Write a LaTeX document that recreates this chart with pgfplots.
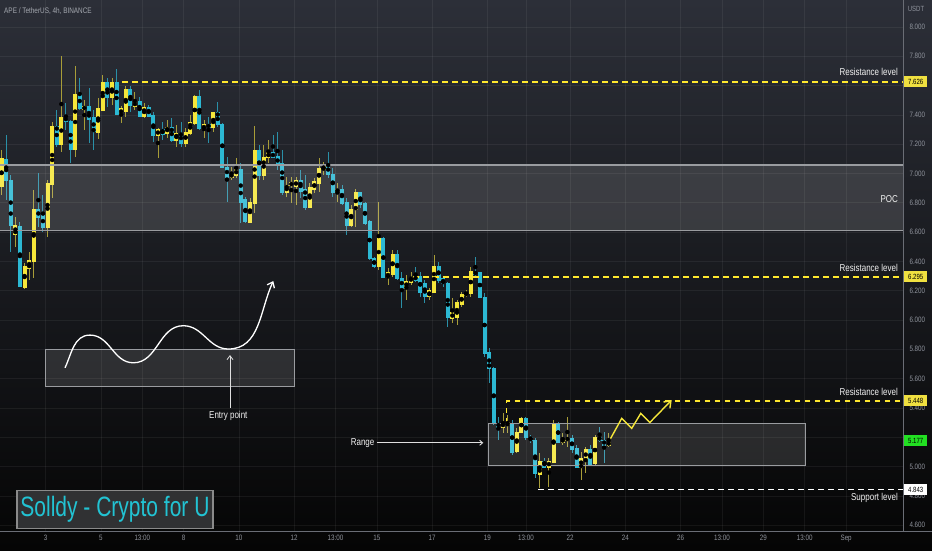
\documentclass[border=0pt]{standalone}
\usepackage{pgfplots}
\pgfplotsset{compat=1.18}
\usepackage{pgfplotstable}
\usetikzlibrary{arrows.meta}
\usepackage{fontspec}
\setmainfont{Liberation Sans}[FakeStretch=0.8]
\newfontfamily\wmfont{Liberation Sans}[FakeStretch=0.75]

\definecolor{upbody}{HTML}{F5E63A}
\definecolor{upwick}{HTML}{A89D38}
\definecolor{dnbody}{HTML}{2CB8D3}
\definecolor{dnwick}{HTML}{2A90A8}
\definecolor{bgtop}{HTML}{2C2F38}
\definecolor{bgmid}{HTML}{17181D}
\definecolor{bgbot}{HTML}{050505}
\definecolor{tickgray}{HTML}{8F939C}
\definecolor{axisgray}{HTML}{6A6D75}
\definecolor{lvlyellow}{HTML}{FFE82E}
\definecolor{tagyellow}{HTML}{F0E040}
\definecolor{taggreen}{HTML}{22E022}
\definecolor{boxline}{HTML}{9A9CA0}
\definecolor{wmcyan}{HTML}{22C3D3}
\definecolor{wmfill}{HTML}{303133}
\definecolor{wmborder}{HTML}{8A8A8A}

% APE/USDT 4h candles: bar index, open, high, low, close
\pgfplotstableread{
i o h l c
0 6.908 7.160 6.853 7.099
3 6.587 6.703 6.498 6.648
5 6.225 6.389 6.211 6.362
6 6.355 6.464 6.273 6.409
7 6.402 6.887 6.286 6.751
10 6.634 6.955 6.566 6.935
11 6.928 7.351 6.833 7.324
13 7.201 7.802 7.146 7.385
16 7.167 7.733 7.112 7.536
18 7.440 7.501 7.297 7.454
21 7.283 7.515 7.235 7.440
22 7.433 7.672 7.426 7.624
24 7.522 7.652 7.467 7.624
26 7.406 7.460 7.344 7.440
27 7.426 7.597 7.385 7.576
29 7.460 7.556 7.433 7.488
31 7.392 7.481 7.379 7.447
34 7.262 7.310 7.106 7.297
36 7.276 7.365 7.242 7.317
38 7.222 7.331 7.181 7.276
40 7.208 7.310 7.181 7.283
41 7.276 7.399 7.262 7.351
42 7.344 7.536 7.331 7.522
44 7.303 7.365 7.242 7.331
46 7.317 7.420 7.283 7.413
50 6.976 7.044 6.955 6.996
51 6.989 7.106 6.969 7.030
54 6.669 6.833 6.662 6.805
55 6.798 7.324 6.730 7.160
57 6.983 7.194 6.955 7.112
58 7.112 7.228 7.071 7.140
62 6.867 6.976 6.839 6.921
63 6.921 6.976 6.798 6.935
64 6.914 6.976 6.785 6.949
67 6.771 6.935 6.764 6.901
68 6.894 6.969 6.867 6.942
69 6.935 7.106 6.873 7.037
70 7.030 7.078 6.989 7.051
73 6.873 6.935 6.805 6.894
76 6.648 6.785 6.634 6.757
77 6.757 6.894 6.634 6.867
82 6.368 6.805 6.341 6.559
84 6.293 6.355 6.239 6.321
85 6.314 6.478 6.293 6.450
88 6.218 6.307 6.136 6.266
89 6.259 6.327 6.239 6.293
93 6.164 6.218 6.136 6.198
94 6.191 6.443 6.184 6.368
98 6.013 6.150 5.979 6.048
99 6.020 6.136 5.966 6.116
100 6.109 6.191 6.089 6.177
101 6.170 6.205 6.157 6.184
102 6.184 6.362 6.157 6.334
109 5.269 5.365 5.228 5.297
110 5.290 5.351 5.228 5.303
112 5.106 5.263 5.092 5.235
113 5.235 5.338 5.228 5.331
117 4.949 5.092 4.853 5.037
119 4.996 5.058 4.860 5.037
120 5.030 5.317 5.024 5.297
122 5.167 5.228 5.147 5.187
123 5.181 5.338 5.133 5.194
126 4.996 5.099 4.908 5.058
127 5.044 5.133 4.955 5.119
129 5.024 5.215 5.010 5.201
132 5.147 5.228 5.133 5.167
}\upbars

\pgfplotstableread{
i o h l c
1 7.092 7.262 6.819 6.955
2 6.955 6.989 6.464 6.648
4 6.641 6.669 6.225 6.232
8 6.751 7.003 6.634 6.703
9 6.716 6.853 6.600 6.634
12 7.324 7.433 7.181 7.201
14 7.385 7.481 7.297 7.358
15 7.358 7.365 7.071 7.167
17 7.542 7.652 7.433 7.447
19 7.454 7.583 7.208 7.372
20 7.379 7.433 7.160 7.290
23 7.624 7.652 7.454 7.522
25 7.624 7.713 7.399 7.406
28 7.576 7.597 7.420 7.467
30 7.488 7.522 7.385 7.392
32 7.447 7.467 7.385 7.392
33 7.399 7.420 7.215 7.256
35 7.297 7.351 7.228 7.269
37 7.317 7.379 7.215 7.222
39 7.276 7.351 7.181 7.208
43 7.522 7.570 7.297 7.310
45 7.331 7.385 7.208 7.317
47 7.413 7.488 7.317 7.331
48 7.331 7.344 7.037 7.044
49 7.044 7.112 6.805 6.976
52 7.030 7.071 6.662 6.805
53 6.819 6.839 6.662 6.669
56 7.160 7.194 6.955 6.983
59 7.140 7.262 7.106 7.112
60 7.119 7.283 7.024 7.058
61 7.065 7.160 6.853 6.873
65 6.949 7.024 6.833 6.880
66 6.894 6.989 6.751 6.771
71 7.058 7.146 6.969 6.996
72 6.996 7.037 6.839 6.873
74 6.894 6.921 6.785 6.798
75 6.805 6.833 6.580 6.648
78 6.867 6.873 6.764 6.791
79 6.798 6.805 6.648 6.662
80 6.669 6.682 6.409 6.423
81 6.423 6.430 6.355 6.362
83 6.559 6.566 6.286 6.293
86 6.450 6.478 6.273 6.286
87 6.286 6.327 6.082 6.218
90 6.300 6.362 6.259 6.273
91 6.300 6.327 6.157 6.191
92 6.252 6.273 6.116 6.164
95 6.368 6.396 6.252 6.273
96 6.280 6.293 6.225 6.252
97 6.252 6.259 5.952 6.020
103 6.327 6.430 6.293 6.314
104 6.321 6.327 6.150 6.157
105 6.157 6.184 5.747 5.775
106 5.775 5.809 5.570 5.672
107 5.672 5.679 5.283 5.297
108 5.297 5.338 5.181 5.269
111 5.297 5.317 5.078 5.099
114 5.331 5.338 5.181 5.201
115 5.201 5.215 5.160 5.181
116 5.181 5.194 4.921 4.955
118 5.037 5.058 4.990 4.996
121 5.297 5.303 5.160 5.167
124 5.194 5.215 5.092 5.119
125 5.126 5.147 4.990 4.996
128 5.119 5.147 5.010 5.017
130 5.201 5.269 5.167 5.181
131 5.181 5.235 5.024 5.147
}\dnbars

\begin{document}
\begin{tikzpicture}
\path[use as bounding box] (0pt,0pt) rectangle (932pt,550pt);
\shade[top color=bgtop, middle color=bgmid, bottom color=bgbot] (0pt,0pt) rectangle (932pt,550pt);
\begin{axis}[
    at={(0pt,19pt)}, anchor=south west,
    width=903pt, height=531pt, scale only axis,
    xmin=1.344, xmax=34.06,
    ymin=4.560, ymax=8.184,
    clip=false,
    axis x line*=bottom, axis y line*=right,
    axis line style={-, draw=axisgray, line width=0.8pt},
    major tick length=0pt,
    grid=major,
    major grid style={draw=white, opacity=0.06, line width=0.6pt},
    xtick={3,5,6.5,8,10,12,13.5,15,17,19,20.4,22,24,26,27.5,29,30.5,32},
    xticklabels={3,5,13:00,8,10,12,13:00,15,17,19,13:00,22,24,26,13:00,29,13:00,Sep},
    ytick={4.6,4.8,5.0,5.2,5.4,5.6,5.8,6.0,6.2,6.4,6.6,6.8,7.0,7.2,7.4,7.6,7.8,8.0},
    yticklabels={4.600,4.800,5.000,,5.400,5.600,5.800,6.000,6.200,6.400,6.600,6.800,7.000,7.200,7.400,,7.800,8.000},
    ticklabel style={font=\fontsize{7.8}{9}\selectfont, text=tickgray},
    yticklabel style={xshift=3pt},
    xticklabel style={yshift=-1pt},
  ]
  % wicks
  \addplot[only marks, mark=none, error bars/.cd, y dir=both, y explicit, error mark=none,
    error bar style={draw=upwick, line width=0.9pt}]
    table[x expr={1.4+\thisrow{i}/6}, y expr={(\thisrow{h}+\thisrow{l})/2}, y error expr={(\thisrow{h}-\thisrow{l})/2}] {\upbars};
  \addplot[only marks, mark=none, error bars/.cd, y dir=both, y explicit, error mark=none,
    error bar style={draw=dnwick, line width=0.9pt}]
    table[x expr={1.4+\thisrow{i}/6}, y expr={(\thisrow{h}+\thisrow{l})/2}, y error expr={(\thisrow{h}-\thisrow{l})/2}] {\dnbars};
  % bodies
  \addplot[only marks, mark=none, error bars/.cd, y dir=both, y explicit, error mark=none,
    error bar style={draw=upbody, line width=4pt}]
    table[x expr={1.4+\thisrow{i}/6}, y expr={(\thisrow{o}+\thisrow{c})/2}, y error expr={(\thisrow{c}-\thisrow{o})/2+0.0035}] {\upbars};
  \addplot[only marks, mark=none, error bars/.cd, y dir=both, y explicit, error mark=none,
    error bar style={draw=dnbody, line width=4pt}]
    table[x expr={1.4+\thisrow{i}/6}, y expr={(\thisrow{o}+\thisrow{c})/2}, y error expr={(\thisrow{o}-\thisrow{c})/2+0.0035}] {\dnbars};

  % POC zone
  \fill[white, fill opacity=0.13] (1.344,6.609) rectangle (34.06,7.058);
  \draw[boxline, line width=1.3pt] (1.344,7.058) -- (34.06,7.058);
  \draw[boxline, line width=1.3pt] (1.344,6.609) -- (34.06,6.609);
  % range box and inset box
  \fill[white, fill opacity=0.12] (19.04,5.010) rectangle (30.51,5.295);
  \draw[boxline, line width=0.9pt] (19.04,5.010) rectangle (30.51,5.295);
  \fill[white, fill opacity=0.12] (3.0,5.549) rectangle (12.03,5.802);
  \draw[boxline, line width=0.9pt] (3.0,5.549) rectangle (12.03,5.802);

  % levels
  \draw[draw=lvlyellow, line width=1.6pt, dash pattern=on 5.5pt off 4.5pt] (5.765,7.626) -- (34.06,7.626);
  \draw[draw=lvlyellow, line width=1.6pt, dash pattern=on 5.5pt off 4.5pt] (16.31,6.295) -- (34.06,6.295);
  \draw[draw=lvlyellow, line width=1.6pt, dash pattern=on 5.5pt off 4.5pt] (19.70,5.297) -- (19.70,5.448) -- (34.06,5.448);
  \draw[draw=white, line width=1.6pt, dash pattern=on 5.5pt off 4.5pt] (20.84,4.843) -- (34.06,4.843);

  % level labels
  \begin{scope}[every node/.style={font=\fontsize{10}{12}\selectfont, text=white!90!gray, inner sep=0pt}]
    \node[anchor=east] at (33.88,7.693) {Resistance level};
    \node[anchor=east] at (33.88,6.826) {POC};
    \node[anchor=east] at (33.88,6.355) {Resistance level};
    \node[anchor=east] at (33.88,5.508) {Resistance level};
    \node[anchor=east] at (33.88,4.785) {Support level};
    \node at (9.616,5.344) {Entry point};
    \node at (14.48,5.162) {Range};
  \end{scope}

  % sketches
  \draw[white, line width=1.3pt, -{Straight Barb[length=5pt,width=8pt]}]
    (3.70,5.674) to[out=65,in=180] (4.605,5.897) to[out=0,in=180] (6.174,5.708)
    to[out=0,in=180] (7.985,5.961) to[out=0,in=180] (9.616,5.802) to[out=0,in=245] (11.246,6.266);
  \draw[white!75!gray, line width=0.8pt, -{Straight Barb[length=4pt,width=6pt]}] (9.677,5.399) -- (9.677,5.761);
  \draw[white!75!gray, line width=0.9pt, -{Straight Barb[length=3pt,width=5pt]}] (14.99,5.162) -- (18.855,5.162);
  \draw[upbody, line width=1.4pt, -{Straight Barb[length=6pt,width=9pt]}]
    (23.40,5.169) -- (23.87,5.329) -- (24.23,5.260) -- (24.56,5.363) -- (24.89,5.301) -- (25.68,5.454);

  % header and watermark
  \node[anchor=west, font=\fontsize{8}{9}\selectfont, text=tickgray!80!white, inner sep=0pt] at (1.49,8.109) {APE / TetherUS, 4h, BINANCE};
  \node[draw=wmborder, line width=1.5pt, fill=wmfill, minimum width=196pt, minimum height=38pt, inner sep=0pt,
    text=wmcyan, font=\wmfont\fontsize{28}{30}\selectfont] at (5.51,4.708) {Solldy - Crypto for U};

  % price scale tags
  \begin{scope}[every node/.style={anchor=west, xshift=1pt, inner sep=0pt, minimum width=23pt, minimum height=11pt,
      font=\fontsize{7.5}{9}\selectfont, text=black}]
    \node[fill=tagyellow] at (34.06,7.626) {7.626};
    \node[fill=tagyellow] at (34.06,6.295) {6.295};
    \node[fill=tagyellow] at (34.06,5.448) {5.448};
    \node[fill=taggreen] at (34.06,5.177) {5.177};
    \node[fill=white] at (34.06,4.843) {4.843};
  \end{scope}
  \node[font=\fontsize{7.5}{9}\selectfont, text=tickgray] at (34.06,8.123) [xshift=13pt] {USDT};
\end{axis}
\draw[axisgray, line width=0.8pt] (903pt,19pt) -- (932pt,19pt);
\end{tikzpicture}
\end{document}
